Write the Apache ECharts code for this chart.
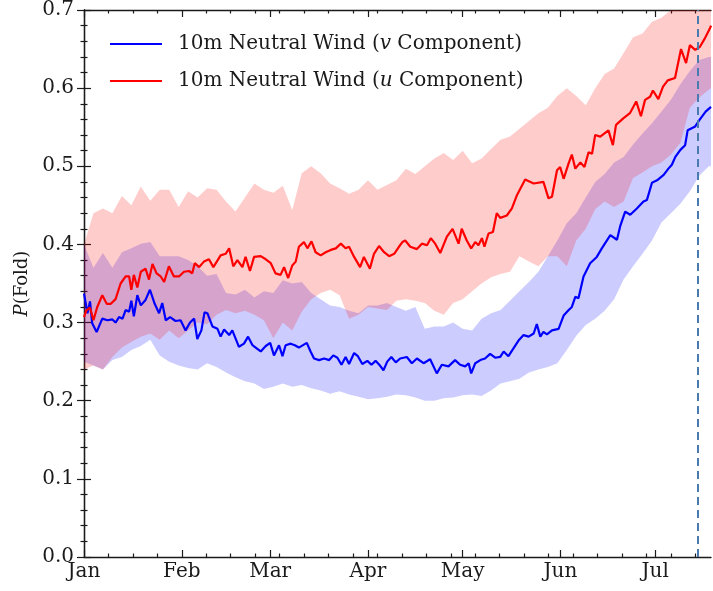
<!DOCTYPE html>
<html>
<head>
<meta charset="utf-8">
<script src="https://cdn.jsdelivr.net/npm/echarts@6/dist/echarts.min.js"></script>
<style>html,body{margin:0;padding:0;background:#fff}#c{width:713px;height:591px}</style>
</head>
<body>
<div id="c"></div>
<script>
// ---- data (day of year from Jan 1) ----
const monthStarts = [0, 31, 59, 90, 120, 151, 181];
const monthNames = ['Jan', 'Feb', 'Mar', 'Apr', 'May', 'Jun', 'Jul'];
const minorTickDays = [7.75, 15.5, 23.25, 38.75, 46.5, 54.25, 62, 69.75, 77.5, 85.25, 93, 100.75, 108.5, 116.25, 124, 131.75, 139.5, 147.25, 155, 162.75, 170.5, 178.25, 186, 193.75];
const markerDay = 194.6;

const vName = '10m Neutral Wind (v Component)';
const uName = '10m Neutral Wind (u Component)';

const vDays = [0,1.1,1.9,2.6,4,5.8,7.4,9,10,11.1,12.2,13.2,14.3,15,15.8,16.9,18,19.5,20.9,22.4,23.8,24.8,25.9,27.3,29,30.6,32.2,33.6,34.9,35.9,37.2,38.2,39.1,40.7,42.3,43.3,44.4,46,47,49.1,50.7,52,53.4,54.4,56,57.6,59,60.2,61.8,62.9,63.9,65.5,66.8,68.1,70.6,71.8,72.9,74.5,76.1,77.7,79,80.3,81.6,82.9,84,85.6,86.8,88.2,89.8,91.1,92.4,93.8,94.9,96.1,97.4,98.8,100.2,102.3,103.9,105.5,107.6,109.7,111.8,113.4,115.5,117.6,119.2,120.8,121.9,122.7,124,125.6,127.1,128.7,130.3,131.9,133,134.5,136.1,137.7,139.3,140.9,142.5,143.5,144.6,145.6,146.7,148.3,150.4,152,153.6,154.6,155.7,156.7,158.3,160.4,162.5,164.1,166.8,168.9,169.9,171.5,173.1,175.2,177.3,178.4,180,181.6,183.7,185.2,186.3,187.4,189,190.5,191.3,193.7,195,197,198.7];
const vMean = [0.337,0.312,0.327,0.299,0.288,0.305,0.303,0.304,0.3,0.307,0.305,0.316,0.314,0.328,0.308,0.335,0.322,0.329,0.342,0.324,0.312,0.325,0.303,0.307,0.302,0.303,0.29,0.3,0.305,0.279,0.29,0.313,0.312,0.295,0.292,0.282,0.291,0.284,0.29,0.269,0.273,0.282,0.271,0.268,0.263,0.27,0.274,0.258,0.271,0.257,0.271,0.273,0.271,0.268,0.274,0.263,0.254,0.252,0.254,0.252,0.258,0.255,0.246,0.256,0.247,0.261,0.257,0.247,0.251,0.246,0.251,0.245,0.239,0.25,0.256,0.249,0.254,0.256,0.248,0.254,0.248,0.253,0.235,0.246,0.244,0.252,0.246,0.244,0.248,0.235,0.248,0.252,0.254,0.26,0.255,0.256,0.263,0.257,0.267,0.277,0.284,0.282,0.286,0.298,0.282,0.288,0.285,0.29,0.292,0.309,0.316,0.32,0.333,0.331,0.359,0.376,0.384,0.395,0.412,0.406,0.423,0.442,0.438,0.446,0.455,0.457,0.479,0.482,0.489,0.497,0.502,0.512,0.521,0.527,0.546,0.551,0.559,0.57,0.576];

const uDays = [0,0.8,1.9,3,4.2,5.8,7.2,8.5,10,11.6,13.2,14.3,15,15.8,16.9,18,19.5,20.6,21.7,23,24.3,25.4,26.9,28.5,30.1,31.7,33.3,34.3,35.1,36.5,38,39.6,41,43.3,44.9,46,47.3,48.6,50.2,51.2,52.6,53.9,56,57.6,59.2,60.7,62.3,63.4,64.7,66,67.1,68.1,69.7,70.8,72.1,73.4,75,76.6,78.2,79.8,81.4,82.9,84,85.6,87.5,88.7,90.6,91.9,93.5,95.1,96.7,98.3,99.8,100.9,101.8,103.4,105.5,107.1,108.7,109.9,111.3,112.9,115,116.8,118.7,119.7,121.3,122.7,124,125,126.1,126.9,128.2,129.6,130.8,131.9,134,135.6,137.2,139.8,142.5,145.6,147.2,148.3,149.9,150.9,152,153.6,154.6,155.7,157.3,158.6,159.9,161,162,163.6,166.2,167.6,168.6,170.8,173,175,176.5,177.8,179.4,180.3,182,183.5,185,187.3,189.2,190.8,192,193.7,195.2,196.8,198.4,198.7];
const uMean = [0.307,0.316,0.319,0.303,0.32,0.335,0.324,0.324,0.33,0.35,0.359,0.359,0.342,0.361,0.345,0.365,0.369,0.355,0.375,0.363,0.359,0.352,0.372,0.359,0.359,0.365,0.366,0.363,0.376,0.371,0.378,0.381,0.371,0.386,0.388,0.395,0.372,0.38,0.371,0.384,0.366,0.384,0.385,0.381,0.376,0.363,0.361,0.371,0.357,0.373,0.378,0.397,0.403,0.395,0.404,0.39,0.386,0.39,0.393,0.395,0.401,0.395,0.397,0.384,0.371,0.384,0.369,0.388,0.398,0.39,0.385,0.388,0.397,0.403,0.405,0.397,0.394,0.401,0.399,0.408,0.401,0.389,0.41,0.42,0.401,0.42,0.405,0.395,0.403,0.399,0.408,0.397,0.414,0.416,0.44,0.434,0.437,0.446,0.463,0.483,0.478,0.48,0.459,0.461,0.495,0.499,0.484,0.504,0.515,0.497,0.505,0.499,0.518,0.516,0.54,0.538,0.546,0.527,0.553,0.561,0.568,0.583,0.564,0.585,0.589,0.597,0.586,0.602,0.61,0.613,0.65,0.632,0.655,0.649,0.653,0.664,0.677,0.68];

const bandDays = [0,3,6,9,12,15,18,21,24,27,30,33,36,39,42,45,48,51,54,57,60,63,66,69,72,75,78,81,84,87,90,93,96,99,102,105,108,111,114,117,120,123,126,129,132,135,138,141,144,147,150,153,156,159,162,165,168,171,174,177,180,183,186,189,192,195,198,198.7];
const uHigh = [0.40,0.44,0.446,0.44,0.462,0.45,0.474,0.456,0.47,0.47,0.448,0.468,0.46,0.472,0.47,0.455,0.442,0.46,0.478,0.47,0.466,0.475,0.444,0.491,0.5,0.491,0.478,0.472,0.465,0.47,0.482,0.47,0.476,0.482,0.497,0.49,0.5,0.51,0.517,0.508,0.52,0.504,0.51,0.522,0.534,0.538,0.548,0.558,0.568,0.575,0.59,0.6,0.59,0.578,0.6,0.618,0.625,0.645,0.665,0.67,0.685,0.69,0.70,0.71,0.72,0.73,0.74,0.74];
const uLow = [0.24,0.245,0.24,0.256,0.268,0.275,0.282,0.286,0.278,0.29,0.28,0.29,0.30,0.298,0.31,0.316,0.312,0.315,0.31,0.303,0.28,0.30,0.29,0.314,0.33,0.338,0.342,0.335,0.305,0.31,0.32,0.318,0.316,0.328,0.33,0.328,0.325,0.315,0.31,0.325,0.33,0.34,0.35,0.358,0.362,0.365,0.385,0.378,0.372,0.385,0.385,0.372,0.405,0.42,0.445,0.455,0.448,0.455,0.485,0.492,0.50,0.505,0.515,0.53,0.575,0.588,0.598,0.60];
const vHigh = [0.40,0.37,0.389,0.37,0.39,0.395,0.401,0.403,0.385,0.385,0.385,0.38,0.372,0.36,0.362,0.338,0.336,0.342,0.332,0.34,0.338,0.354,0.35,0.352,0.338,0.33,0.322,0.32,0.315,0.312,0.322,0.322,0.325,0.32,0.315,0.32,0.292,0.295,0.295,0.30,0.292,0.29,0.305,0.312,0.316,0.328,0.34,0.352,0.365,0.385,0.405,0.427,0.44,0.46,0.48,0.49,0.505,0.512,0.528,0.542,0.555,0.57,0.585,0.605,0.622,0.636,0.64,0.64];
const vLow = [0.25,0.245,0.24,0.252,0.256,0.265,0.27,0.278,0.258,0.25,0.245,0.242,0.24,0.248,0.243,0.236,0.23,0.225,0.222,0.215,0.218,0.222,0.218,0.22,0.216,0.213,0.209,0.212,0.208,0.205,0.202,0.203,0.205,0.208,0.207,0.204,0.20,0.20,0.203,0.204,0.207,0.208,0.206,0.213,0.222,0.225,0.228,0.236,0.24,0.243,0.248,0.265,0.283,0.297,0.305,0.315,0.33,0.355,0.372,0.388,0.405,0.428,0.44,0.452,0.468,0.488,0.50,0.50];

// ---- build ----
const FONT = 'DejaVu Serif';
const INK = '#1a1a1a';
const pairs = (xs, ys) => xs.map((x, i) => [x, ys[i]]);

function bandSeries(lo, hi, fill) {
  return {
    type: 'custom', silent: true, clip: true, z: 1,
    data: [0],
    renderItem: function (params, api) {
      const pts = [];
      for (let i = 0; i < bandDays.length; i++) pts.push(api.coord([bandDays[i], lo[i]]));
      for (let i = bandDays.length - 1; i >= 0; i--) pts.push(api.coord([bandDays[i], hi[i]]));
      return { type: 'polygon', shape: { points: pts }, style: { fill: fill, stroke: null } };
    }
  };
}

const xCommon = { type: 'value', min: 0, max: 198.7, splitLine: { show: false }, gridIndex: 0 };
const tickLine = { color: INK, width: 1.2 };

const option = {
  animation: false,
  backgroundColor: '#fff',
  grid: { left: 84, right: 2, top: 10, bottom: 34, containLabel: false },
  xAxis: [
    Object.assign({}, xCommon, {
      position: 'bottom',
      axisLine: { show: true, lineStyle: { color: INK, width: 1.3 } },
      axisTick: { show: true, inside: true, length: 7, lineStyle: tickLine, customValues: monthStarts },
      axisLabel: { show: true, customValues: monthStarts, margin: 5, color: INK, fontFamily: FONT, fontSize: 20,
        formatter: v => monthNames[monthStarts.indexOf(Math.round(v))] || '' }
    }),
    Object.assign({}, xCommon, {
      position: 'bottom',
      axisLine: { show: false },
      axisTick: { show: true, inside: true, length: 3.5, lineStyle: tickLine, customValues: minorTickDays },
      axisLabel: { show: false }
    }),
    Object.assign({}, xCommon, {
      position: 'top',
      axisLine: { show: true, lineStyle: { color: INK, width: 1.3 } },
      axisTick: { show: true, inside: true, length: 7, lineStyle: tickLine, customValues: monthStarts },
      axisLabel: { show: false }
    }),
    Object.assign({}, xCommon, {
      position: 'top',
      axisLine: { show: false },
      axisTick: { show: true, inside: true, length: 3.5, lineStyle: tickLine, customValues: minorTickDays },
      axisLabel: { show: false }
    })
  ],
  yAxis: [
    {
      type: 'value', min: 0, max: 0.7, interval: 0.1, position: 'left',
      splitLine: { show: false },
      axisLine: { show: true, lineStyle: { color: INK, width: 1.3 } },
      axisTick: { show: true, inside: true, length: 7, lineStyle: tickLine },
      minorTick: { show: true, splitNumber: 5, length: 3.5, lineStyle: tickLine },
      axisLabel: { color: INK, fontFamily: FONT, fontSize: 20, margin: 10, formatter: v => v.toFixed(1) },
      name: '{i|P}(Fold)', nameLocation: 'middle', nameGap: 52, nameRotate: 90,
      nameTextStyle: { color: INK, fontFamily: FONT, fontSize: 18,
        rich: { i: { fontStyle: 'italic', fontFamily: FONT, fontSize: 18, color: INK } } }
    },
    {
      type: 'value', min: 0, max: 0.7, interval: 0.1, position: 'right',
      splitLine: { show: false },
      axisLine: { show: true, lineStyle: { color: INK, width: 1.3 } },
      axisTick: { show: true, inside: true, length: 7, lineStyle: tickLine },
      minorTick: { show: true, splitNumber: 5, length: 3.5, lineStyle: tickLine },
      axisLabel: { show: false }
    }
  ],
  legend: {
    data: [vName, uName], orient: 'vertical', left: 105, top: 28, itemGap: 15,
    itemWidth: 52, itemHeight: 14, icon: 'path://M0,6 L52,6 L52,8.2 L0,8.2 Z',
    textStyle: { color: INK, fontFamily: FONT, fontSize: 20, lineHeight: 22, padding: [0, 0, 0, 11],
      rich: { i: { fontStyle: 'italic', fontFamily: FONT, fontSize: 20, color: INK } } },
    formatter: name => name.replace(/\((\w) /, '({i|$1} ')
  },
  series: [
    bandSeries(vLow, vHigh, 'rgba(0,0,255,0.2)'),
    bandSeries(uLow, uHigh, 'rgba(255,0,0,0.2)'),
    { name: vName, type: 'line', data: pairs(vDays, vMean), symbol: 'none', z: 3,
      itemStyle: { color: '#0000ff' }, lineStyle: { color: '#0000ff', width: 2.2 },
      markLine: { silent: true, symbol: ['none', 'none'], label: { show: false },
        lineStyle: { color: '#4a7bb0', width: 2, type: [8, 5] },
        data: [{ xAxis: markerDay }] } },
    { name: uName, type: 'line', data: pairs(uDays, uMean), symbol: 'none', z: 3,
      itemStyle: { color: '#ff0000' }, lineStyle: { color: '#ff0000', width: 2.2 } }
  ]
};

const chart = echarts.init(document.getElementById('c'), null, { renderer: 'canvas' });
chart.setOption(option);
</script>
</body>
</html>
